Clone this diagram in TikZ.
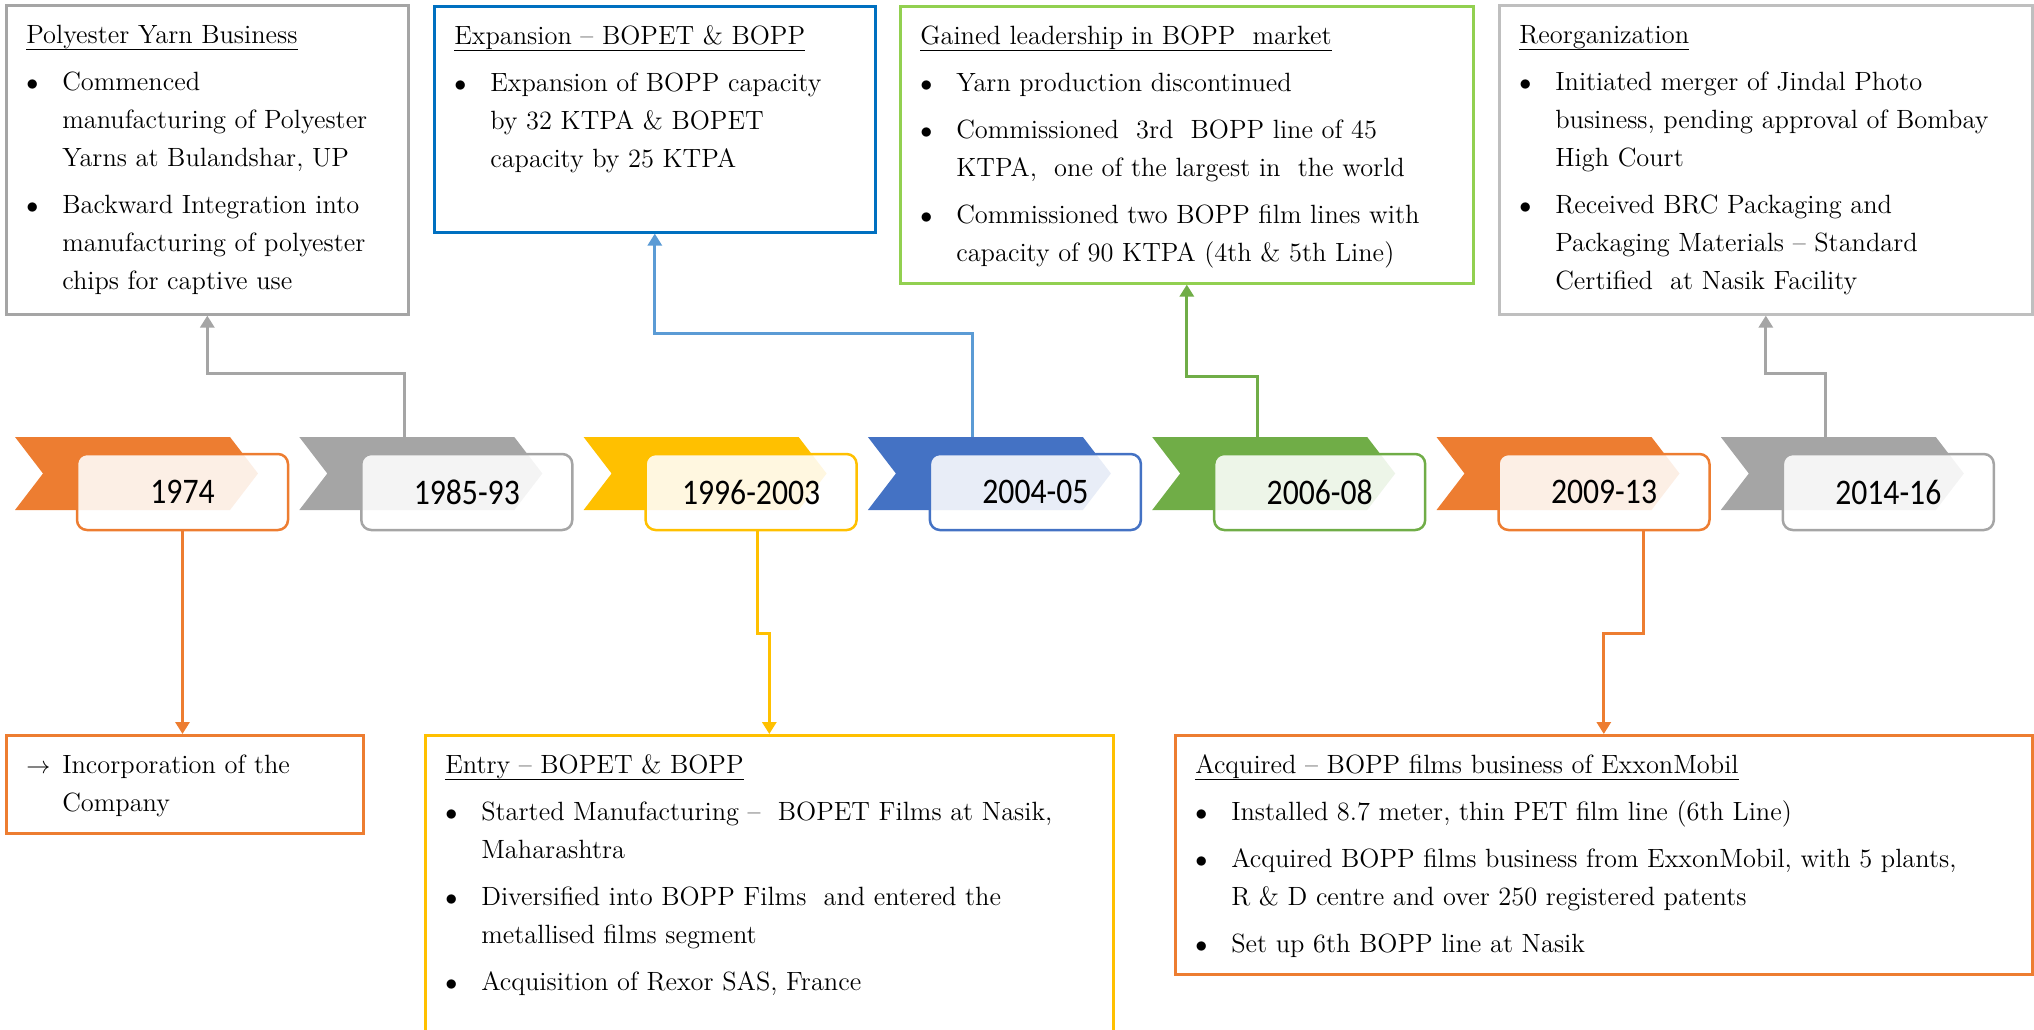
\documentclass[tikz,border=0pt]{standalone}
\usepackage{fontspec}
\usepackage{tikz}
\usetikzlibrary{arrows.meta, calc, positioning}
\newfontfamily\datefont[FakeStretch=0.88]{Carlito}
\definecolor{tlorange}{HTML}{ED7D31}
\definecolor{tlgray}{HTML}{A5A5A5}
\definecolor{tlyellow}{HTML}{FFC000}
\definecolor{tlblue}{HTML}{4472C4}
\definecolor{tlgreen}{HTML}{70AD47}
\definecolor{linkblue}{HTML}{5B9BD5}
\definecolor{boxblue}{HTML}{0070C0}
\definecolor{boxgreen}{HTML}{92D050}
\definecolor{boxgray}{HTML}{BFBFBF}
\newcommand{\ulhead}[1]{\underline{\smash{#1}\rule[-1.4pt]{0pt}{0pt}}}
\newcommand{\bul}[1]{\makebox[18pt][l]{$\bullet$}\mbox{#1}}
\newcommand{\cont}[1]{\hspace*{18pt}\mbox{#1}}
\newcommand{\firstline}{\rule{0pt}{10pt}}
\tikzset{
    yearbox/.style={draw, rounded corners=5pt, line width=1.25pt, fill=white, fill opacity=0.88, text opacity=1, minimum width=105.5pt, minimum height=38pt, inner sep=0pt, font=\datefont\fontsize{18}{20}\selectfont},
    notebox/.style={draw, line width=1.3pt, inner xsep=10pt, inner ysep=9pt, anchor=north west, font=\fontsize{13.2}{19}\selectfont},
    link/.style={line width=1.5pt, -{Triangle[width=7pt, length=6pt]}}
}
\newcommand{\period}[4]{
    \fill[#3] (#2,437) -- (#2+215,437) -- (#2+243,473.5) -- (#2+215,510) -- (#2,510) -- (#2+28,473.5) -- cycle;
    \node[yearbox, draw=#3] (#1) at (#2+167.5,492) {#4};
    \coordinate (#1-u) at (#2+105,437);
}
\newcommand{\notebox}[6]{
    \node[notebox, draw=#5] (#1) at (#2) {\parbox[t][\dimexpr #4pt/2-18pt\relax][t]{\dimexpr #3pt/2-20pt\relax}{#6}};
}
\begin{document}
\begin{tikzpicture}[x=0.5pt, y=-0.5pt]
    \useasboundingbox (0,0) rectangle (2034,1029);
    \period{y1974}{15}{tlorange}{1974}
    \period{y1985}{299.3}{tlgray}{1985-93}
    \period{y1996}{583.6}{tlyellow}{1996-2003}
    \period{y2004}{867.9}{tlblue}{2004-05}
    \period{y2006}{1152.2}{tlgreen}{2006-08}
    \period{y2009}{1436.5}{tlorange}{2009-13}
    \period{y2014}{1720.8}{tlgray}{2014-16}
    \notebox{yarnbox}{5,4}{402}{309}{tlgray}{\firstline\ulhead{Polyester Yarn Business}\\[4.5pt]
        \bul{Commenced}\\
        \cont{manufacturing of Polyester}\\
        \cont{Yarns at Bulandshar, UP}\\[4.5pt]
        \bul{Backward Integration into}\\
        \cont{manufacturing of polyester}\\
        \cont{chips for captive use}}
    \notebox{expbox}{433,5}{441}{226}{boxblue}{\firstline\ulhead{Expansion -- BOPET \& BOPP}\\[4.5pt]
        \bul{Expansion of BOPP capacity}\\
        \cont{by 32 KTPA \& BOPET}\\
        \cont{capacity by 25 KTPA}}
    \notebox{leadbox}{899,5}{573}{277}{boxgreen}{\firstline\ulhead{Gained leadership in BOPP\ \ market}\\[4.5pt]
        \bul{Yarn production discontinued}\\[4.5pt]
        \bul{Commissioned\ \ 3rd\ \ BOPP line of 45}\\
        \cont{KTPA,\ \ one of the largest in\ \ the world}\\[4.5pt]
        \bul{Commissioned two BOPP film lines with}\\
        \cont{capacity of 90 KTPA (4th \& 5th Line)}}
    \notebox{reorgbox}{1498,4}{533}{309}{boxgray}{\firstline\ulhead{Reorganization}\\[4.5pt]
        \bul{Initiated merger of Jindal Photo}\\
        \cont{business, pending approval of Bombay}\\
        \cont{High Court}\\[4.5pt]
        \bul{Received BRC Packaging and}\\
        \cont{Packaging Materials -- Standard}\\
        \cont{Certified\ \ at Nasik Facility}}
    \notebox{incbox}{5,734}{357}{98}{tlorange}{\firstline\makebox[18pt][l]{$\rightarrow$}\mbox{Incorporation of the}\\
        \cont{Company}}
    \notebox{entrybox}{424,734}{688}{311}{tlyellow}{\firstline\ulhead{Entry -- BOPET \& BOPP}\\[4.5pt]
        \bul{Started Manufacturing --\ \ BOPET Films at Nasik,}\\
        \cont{Maharashtra}\\[4.5pt]
        \bul{Diversified into BOPP Films\ \ and entered the}\\
        \cont{metallised films segment}\\[4.5pt]
        \bul{Acquisition of Rexor SAS, France}}
    \notebox{acqbox}{1174,734}{857}{239}{tlorange}{\firstline\ulhead{Acquired -- BOPP films business of ExxonMobil}\\[4.5pt]
        \bul{Installed 8.7 meter, thin PET film line (6th Line)}\\[4.5pt]
        \bul{Acquired BOPP films business from ExxonMobil, with 5 plants,}\\
        \cont{R \& D centre and over 250 registered patents}\\[4.5pt]
        \bul{Set up 6th BOPP line at Nasik}}
    % connectors up
    \draw[link, tlgray] (y1985-u) -- ++(0,-64) -| (yarnbox.south);
    \draw[link, linkblue] (y2004-u) -- ++(0,-104) -| (expbox.south);
    \draw[link, tlgreen] (y2006-u) -- ++(0,-61) -| (leadbox.south);
    \draw[link, tlgray] (y2014-u) -- ++(0,-64) -| (reorgbox.south);
    % connectors down
    \draw[link, tlorange] (y1974.south) -- (y1974.south |- incbox.north);
    \draw[link, tlyellow] ($(y1996.south)+(6,0)$) -- ++(0,102) -| (entrybox.north);
    \draw[link, tlorange] ($(y2009.south)+(39,0)$) -- ++(0,102) -| (acqbox.north);
\end{tikzpicture}
\end{document}
